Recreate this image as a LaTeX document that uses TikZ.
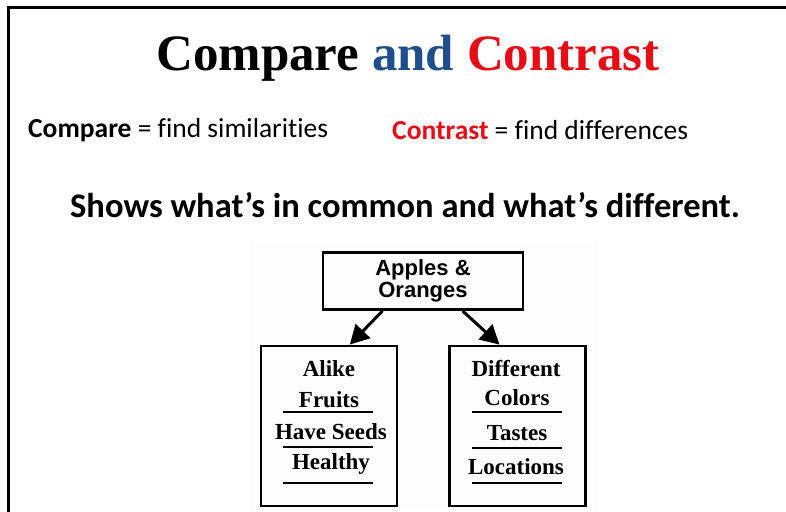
\documentclass[tikz,border=0pt]{standalone}
\usepackage{fontspec}
\setmainfont{Liberation Serif}
\newfontfamily\calibrif[Ligatures=NoCommon]{Carlito}
\newfontfamily\arialf{Liberation Sans}
\usetikzlibrary{arrows.meta,calc}
\definecolor{andblue}{HTML}{1F4E8C}
\definecolor{conred}{HTML}{E80C14}
\definecolor{scanbg}{HTML}{FDFDFD}

\begin{document}
\begin{tikzpicture}[x=1pt,y=-1pt,
  heading/.style={font=\bfseries\fontsize{51}{60}\selectfont, inner sep=0pt},
  plain/.style={font=\calibrif\fontsize{27.5}{32}\selectfont, inner sep=0pt},
  subhead/.style={font=\calibrif\bfseries\fontsize{34.5}{40}\selectfont, inner sep=0pt},
  topbox/.style={draw, line width=2.8pt, minimum width=200pt, minimum height=57pt,
    align=center, inner sep=0pt, font=\arialf\bfseries\fontsize{22}{23}\selectfont},
  listbox/.style={draw, line width=2.8pt, minimum width=136pt, minimum height=160pt, inner sep=0pt},
  entry/.style={font=\bfseries\fontsize{23}{26}\selectfont, inner sep=0pt},
  rule/.style={line width=2pt},
  link/.style={line width=3pt, -{Triangle[length=19pt,width=20pt]}}
]
\useasboundingbox (0,0) rectangle (786,511);

% outer frame (top and left edges only)
\draw[line width=3pt] (8,513) -- (8,8) -- (788,8);

% headings
\node[heading] (title) at (408,58)
  {Compare {\color{andblue}and} {\color{conred}Contrast}};
\node[plain, anchor=west] (cmp) at (28,130) {\textbf{Compare} = find similarities};
\node[plain, anchor=west] (ctr) at (392,130) {{\bfseries\color{conred}Contrast} = find differences};
\node[subhead] (shows) at (405,205) {Shows what’s in common and what’s different.};

% scanned chart area
\fill[scanbg] (250,241) rectangle (598,511);

\node[topbox] (fruit) at (423,281) {Apples \&\\[-1pt]Oranges};
\node[listbox] (alike) at (329,426) {};
\node[listbox] (diff) at (517.5,426) {};

\draw[link] ($(fruit.south west)!0.30!(fruit.south east)$) -- ($(alike.north west)!0.65!(alike.north east)$);
\draw[link] ($(fruit.south west)!0.695!(fruit.south east)$) -- ($(diff.north west)!0.37!(diff.north east)$);

% similarities column
\node[entry] (a0) at (329,369) {Alike};
\node[entry] (a1) at (329,400) {Fruits};
\node[entry] (a2) at (331,432) {Have Seeds};
\node[entry] (a3) at (331,464) {Healthy};
\draw[rule] (283,412) -- (373,412);
\draw[rule] (283,447) -- (373,447);
\draw[rule] (283,483) -- (373,483);

% differences column
\node[entry] (d0) at (516,369) {Different};
\node[entry] (d1) at (517,398) {Colors};
\node[entry] (d2) at (517,433) {Tastes};
\node[entry] (d3) at (516,467) {Locations};
\draw[rule] (472,412) -- (562,412);
\draw[rule] (472,448) -- (562,448);
\draw[rule] (472,483) -- (562,483);
\end{tikzpicture}
\end{document}
